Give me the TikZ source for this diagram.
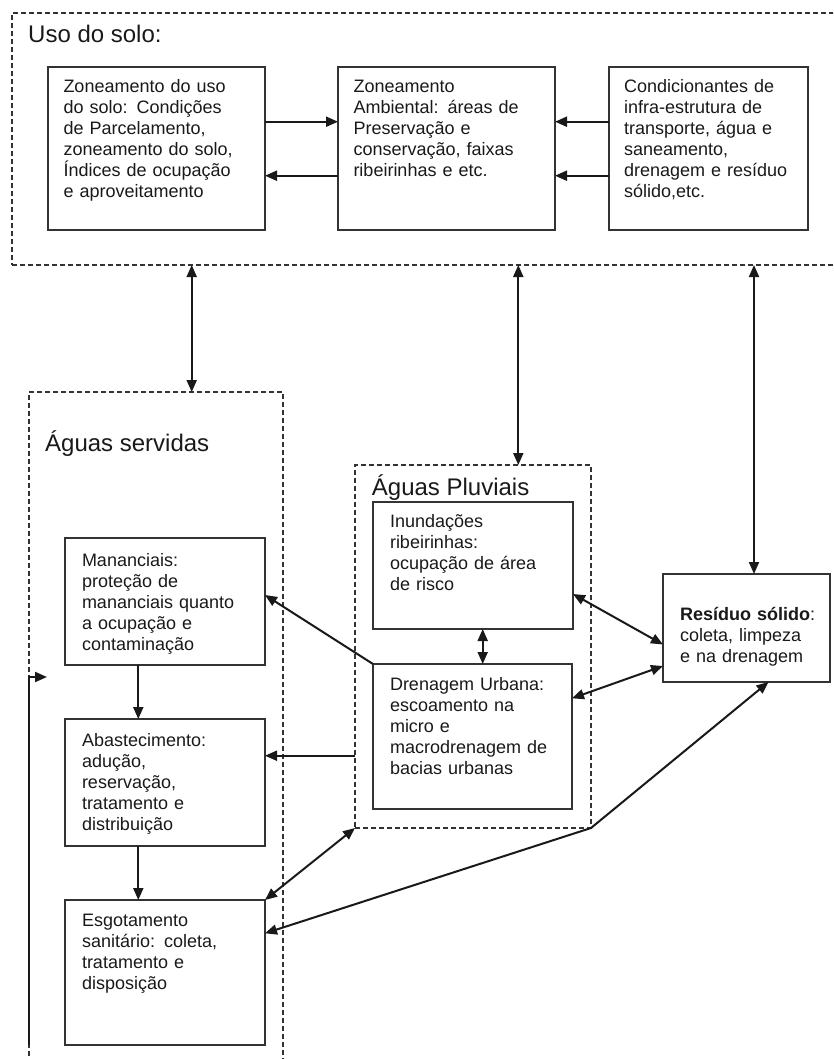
\documentclass[tikz,border=0pt]{standalone}
\usepackage{fontspec}
\setmainfont{Liberation Sans}
\usetikzlibrary{arrows.meta,calc}
\begin{document}
\begin{tikzpicture}[x=1pt,y=-1pt,
  box/.style={draw=black!80, line width=1.8pt, anchor=north west, align=left,
    inner ysep=0pt, outer sep=0pt, font=\fontsize{18}{21}\selectfont, text=black!90},
  group/.style={draw=black!80, line width=1.5pt, dash pattern=on 5pt off 3pt,
    anchor=north west, inner sep=0pt, outer sep=0pt},
  ttl/.style={anchor=base west, inner sep=0pt, font=\fontsize{24}{28}\selectfont, text=black!90},
  arr/.style={line width=2pt, draw=black!90, -{Triangle[length=12pt,width=10pt]}},
  dbl/.style={line width=2pt, draw=black!90,
    {Triangle[length=12pt,width=10pt]}-{Triangle[length=12pt,width=10pt]}},
]
\useasboundingbox (0,0) rectangle (833,1059);
\clip (0,0) rectangle (833,1059);

% groups
\node[group, minimum width=833pt, minimum height=252pt] (uso) at (12,13) {};
\node[group, minimum width=254pt, minimum height=673pt] (serv) at (29,392) {};
\node[group, minimum width=236pt, minimum height=363pt] (pluv) at (355,465) {};

% titles
\node[ttl] (tuso) at (28,42.7) {Uso do solo:};
\node[ttl] (tserv) at (45,451.7) {Águas servidas};
\node[ttl] (tpluv) at (371.7,495) {Águas Pluviais};

% top row
\node[box, inner xsep=15.5pt, text width=186pt, text height=25.7pt, text depth=137.3pt] (b1) at (48,67)
  {Zoneamento do uso\\do solo: Condições\\de Parcelamento,\\zoneamento do solo,\\Índices de ocupação\\e aproveitamento};
\node[box, inner xsep=15.5pt, text width=186pt, text height=25.7pt, text depth=137.3pt] (b2) at (338,67)
  {Zoneamento\\Ambiental: áreas de\\Preservação e\\conservação, faixas\\ribeirinhas e etc.};
\node[box, inner xsep=15pt, text width=169pt, text height=25.7pt, text depth=137.3pt] (b3) at (609,67)
  {Condicionantes de\\infra-estrutura de\\transporte, água e\\saneamento,\\drenagem e resíduo\\sólido,etc.};

% Aguas servidas
\node[box, inner xsep=17pt, text width=166pt, text height=28.7pt, text depth=98.3pt] (m) at (65,538)
  {Mananciais:\\proteção de\\mananciais quanto\\a ocupação e\\contaminação};
\node[box, inner xsep=17pt, text width=166pt, text height=27pt, text depth=100pt] (a) at (65,719)
  {Abastecimento:\\adução,\\reservação,\\tratamento e\\distribuição};
\node[box, inner xsep=17pt, text width=166pt, text height=26.7pt, text depth=118.3pt] (e) at (65,900)
  {Esgotamento\\sanitário: coleta,\\tratamento e\\disposição};

% Aguas pluviais
\node[box, inner xsep=17pt, text width=166pt, text height=25.3pt, text depth=101.7pt] (i) at (373,502)
  {Inundações\\ribeirinhas:\\ocupação de área\\de risco};
\node[box, inner xsep=17pt, text width=165pt, text height=26pt, text depth=119pt] (d) at (373,664)
  {Drenagem Urbana:\\escoamento na\\micro e\\macrodrenagem de\\bacias urbanas};

% Residuo solido
\node[box, inner xsep=17pt, text width=133pt, text height=46pt, text depth=62pt] (r) at (663,574)
  {\mbox{\textbf{Resíduo sólido}:}\\coleta, limpeza\\e na drenagem};

% arrows top row
\draw[arr] (b1.east |- 0,121.7) -- (b2.west |- 0,121.7);
\draw[arr] (b2.west |- 0,175.7) -- (b1.east |- 0,175.7);
\draw[arr] (b3.west |- 0,121.7) -- (b2.east |- 0,121.7);
\draw[arr] (b3.west |- 0,175.7) -- (b2.east |- 0,175.7);

% vertical links from Uso do solo
\draw[dbl] (uso.south -| 191.7,0) -- (serv.north -| 191.7,0);
\draw[dbl] (uso.south -| 518.3,0) -- (pluv.north -| 518.3,0);
\draw[dbl] (uso.south -| 754,0) -- (r.north -| 754,0);

% Aguas servidas chain
\draw[arr] (m.south -| 138.3,0) -- (a.north -| 138.3,0);
\draw[arr] (a.south -| 138.3,0) -- (e.north -| 138.3,0);

% from drainage
\draw[arr] (d.north west) -- (m.east |- 0,595);
\draw[arr] (pluv.west |- 0,755.7) -- (a.east |- 0,755.7);
\draw[dbl] (i.south -| 482.7,0) -- (d.north -| 482.7,0);
\draw[dbl] (i.east |- 0,594) -- (r.west |- 0,644.5);
\draw[dbl] (d.east |- 0,698.3) -- (r.west |- 0,666);
\draw[dbl] (e.north east) -- (pluv.south west);
\draw[dbl] (e.east |- 0,933.3) -- (pluv.south east) -- (r.south -| 768.5,0);

% left side arrow
\coordinate (lb) at (29,1045);
\coordinate (lt) at (47,677);
\draw[arr] (lb) |- (lt);
\end{tikzpicture}
\end{document}
